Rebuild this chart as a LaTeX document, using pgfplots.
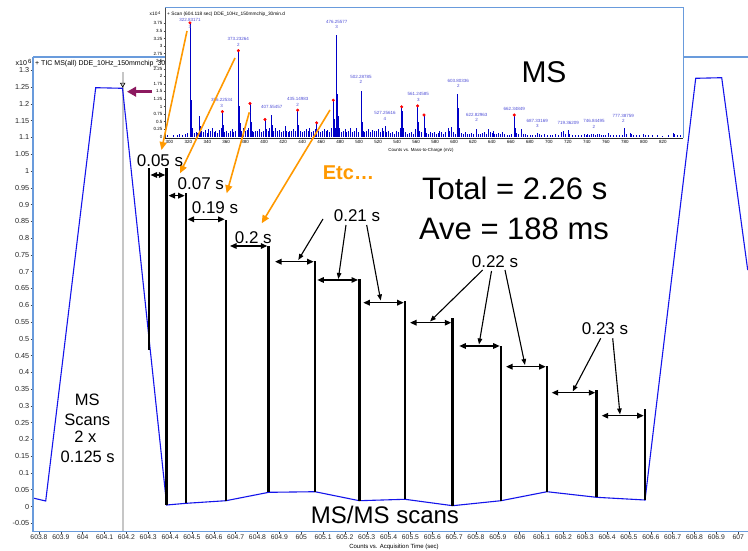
\documentclass[border=0pt]{standalone}
\usepackage{fontspec}
\setmainfont{Liberation Sans}
\usepackage{pgfplots}
\pgfplotsset{compat=1.18}
\usetikzlibrary{arrows.meta}

\definecolor{axisblue}{RGB}{105,155,220}
\definecolor{ticblue}{RGB}{20,20,235}
\definecolor{specblue}{RGB}{0,0,200}
\definecolor{peaklab}{RGB}{80,80,215}
\definecolor{orangec}{RGB}{255,153,0}
\definecolor{plum}{RGB}{140,25,95}

% pixel frame of the reference: origin top left, y down
\tikzset{px/.style={x=1bp,y=-1bp,shift={(0bp,551bp)}},
  dbl/.style={{Triangle[length=6.5bp,width=5.5bp]}-{Triangle[length=6.5bp,width=5.5bp]}, line width=1.4bp, black},
  call/.style={-{Triangle[length=6bp,width=4.5bp]}, line width=1.1bp, black},
  orng/.style={-{Triangle[length=8bp,width=7bp]}, line width=1.6bp, orangec},
  big/.style={anchor=base, font=\fontsize{17bp}{20bp}\selectfont},
  pk/.style={font=\fontsize{4.5bp}{5bp}\selectfont, text=peaklab, inner sep=0pt}}

\begin{document}
\begin{tikzpicture}
\path[use as bounding box, fill=white] (0,0) rectangle (748bp,551bp);

% ---------------- main TIC chromatogram ----------------
\begin{axis}[
  at={(33bp,20bp)}, anchor=south west, scale only axis,
  width=715bp, height=474bp,
  xmin=603.77254, xmax=607.04485, ymin=-0.0730, ymax=1.3398,
  axis line style={draw=none},
  clip=false,
  tick align=outside, xtick pos=left, ytick pos=left,
  major tick length=2.5bp,
  tick style={black!75, line width=0.5bp},
  scaled ticks=false,
  /pgf/number format/assume math mode=true,
  xtick={603.8,603.9,604,604.1,604.2,604.3,604.4,604.5,604.6,604.7,604.8,604.9,605,605.1,605.2,605.3,605.4,605.5,605.6,605.7,605.8,605.9,606,606.1,606.2,606.3,606.4,606.5,606.6,606.7,606.8,606.9,607},
  ytick={-0.05,0,0.05,0.1,0.15,0.2,0.25,0.3,0.35,0.4,0.45,0.5,0.55,0.6,0.65,0.7,0.75,0.8,0.85,0.9,0.95,1,1.05,1.1,1.15,1.2,1.25,1.3},
  xticklabel style={font=\fontsize{6.8bp}{7bp}\selectfont, text=black!85, inner sep=1bp,
    /pgf/number format/fixed, /pgf/number format/precision=1},
  yticklabel style={font=\fontsize{7.3bp}{8bp}\selectfont, text=black!85, inner sep=1bp,
    /pgf/number format/fixed, /pgf/number format/precision=2},
]
% marker line at the selected scan
\addplot[gray!45, line width=2bp] coordinates {(604.1831,-0.073) (604.1831,1.296)};

% TIC trace
\addplot[ticblue, line width=1.1bp] coordinates {
  (603.7725,0.0253) (603.8307,0.0164) (604.0595,1.2483) (604.1822,1.2465)
  (604.3844,0.0045) (604.4728,0.0095) (604.6558,0.0173) (604.8513,0.0423)
  (605.0632,0.0441) (605.2659,0.0173) (605.4751,0.0215) (605.6934,0.0024)
  (605.9144,0.0173) (606.1249,0.0441) (606.3524,0.0274) (606.5735,0.0194)
  (606.8055,1.2763) (606.9245,1.2781) (607.0435,0.7049)
};

\addplot[only marks, mark=triangle*, mark size=2.6bp,
  mark options={rotate=180, fill=gray!40, draw=black, line width=0.6bp}]
  coordinates {(604.1831,1.258)};

% MS/MS scan boundaries
\addplot[black, line width=2.6bp] coordinates {(604.3034,0.4665) (604.3034,1.0089)};
\addplot[black, line width=2.6bp] coordinates {(604.3844,0.0045) (604.3844,1.0089)};
\addplot[black, line width=2.6bp] coordinates {(604.4728,0.0095) (604.4728,0.9335)};
\addplot[black, line width=2.6bp] coordinates {(604.6558,0.0173) (604.6558,0.8539)};
\addplot[black, line width=2.6bp] coordinates {(604.8513,0.0423) (604.8513,0.7765)};
\addplot[black, line width=2.6bp] coordinates {(605.0632,0.0441) (605.0632,0.7317)};
\addplot[black, line width=2.6bp] coordinates {(605.2659,0.0173) (605.2659,0.6772)};
\addplot[black, line width=2.6bp] coordinates {(605.4751,0.0215) (605.4751,0.6125)};
\addplot[black, line width=2.6bp] coordinates {(605.6934,0.0024) (605.6934,0.5627)};
\addplot[black, line width=2.6bp] coordinates {(605.9144,0.0173) (605.9144,0.4784)};
\addplot[black, line width=2.6bp] coordinates {(606.1249,0.0441) (606.1249,0.4188)};
\addplot[black, line width=2.6bp] coordinates {(606.3524,0.0274) (606.3524,0.3472)};
\addplot[black, line width=2.6bp] coordinates {(606.5735,0.0194) (606.5735,0.2897)};
\end{axis}

\begin{scope}[px]
  \draw[axisblue, line width=1.8bp] (33,57) -- (33,531.5) -- (748,531.5);
  \draw[axisblue, line width=1.2bp] (33,57) -- (748,57);
  \node[anchor=base west, inner sep=0pt, font=\fontsize{7bp}{8bp}\selectfont] at (15.5,65.7)
    {x10\,\raisebox{2.5bp}{\fontsize{6bp}{6bp}\selectfont 6}};
  \node[anchor=base west, inner sep=0pt, font=\fontsize{7bp}{8bp}\selectfont] at (35,65.7)
    {+ TIC MS(all) DDE\_10Hz\_150mmchip\_30min.d};
  \node[anchor=base, inner sep=0pt, font=\fontsize{6bp}{7bp}\selectfont] at (394,549)
    {Counts vs. Acquisition Time (sec)};
\end{scope}

% ---------------- inset: MS spectrum ----------------
\begin{axis}[
  at={(165bp,413bp)}, anchor=south west, scale only axis,
  width=518bp, height=130bp,
  xmin=295.47, xmax=841.31, ymin=-0.043, ymax=4.2616,
  axis line style={draw=none},
  axis background/.style={fill=white},
  clip=false,
  tick align=outside, xtick pos=left, ytick pos=left,
  major tick length=1.5bp,
  tick style={black!75, line width=0.4bp},
  scaled ticks=false,
  /pgf/number format/assume math mode=true,
  xtick={300,320,...,820},
  ytick={0,0.25,...,3.75},
  xticklabel style={font=\fontsize{4.5bp}{5bp}\selectfont, inner sep=0.8bp,
    /pgf/number format/fixed, /pgf/number format/precision=0},
  yticklabel style={font=\fontsize{4.5bp}{5bp}\selectfont, inner sep=0.8bp,
    /pgf/number format/fixed, /pgf/number format/precision=2},
]
\addplot[ycomb, specblue, line width=0.7bp] table {
x y
296 0.03
298 0.04
304 0.05
308 0.04
311 0.08
314 0.05
317 0.10
319 0.12
321.8 3.77
322.4 1.93
323.0 1.20
323.6 0.55
324.3 0.30
326 0.12
328 0.15
330 0.12
331.6 0.68
332.5 0.35
334 0.20
336 0.15
338 0.22
340 0.12
341.5 0.25
343 0.18
345 0.30
347 0.15
349 0.20
351 0.12
353 0.22
354.5 0.30
355.9 0.83
356.8 0.40
358 0.15
360 0.20
362 0.12
364 0.18
366 0.25
368 0.15
370 0.20
372.8 2.85
373.6 1.00
374.4 0.45
376 0.20
378 0.28
380 0.18
382 0.22
383.5 0.30
385.0 1.10
386.0 0.50
387.5 0.20
389 0.15
391 0.20
393 0.18
395 0.25
397 0.15
399 0.20
400.8 0.57
402 0.25
404 0.18
405.5 0.30
407.1 0.72
408.5 0.40
410 0.20
412 0.30
414 0.18
416 0.22
418 0.15
420 0.20
421.9 0.35
423.5 0.20
425 0.15
427 0.20
429 0.18
431 0.25
433 0.20
435.3 0.88
436.3 0.40
438 0.20
440 0.15
442 0.20
444 0.25
446 0.18
448 0.30
450 0.15
452 0.20
453.5 0.25
455.3 0.46
457 0.20
459 0.15
461 0.20
463 0.25
465 0.18
467 0.22
469 0.15
471 0.30
472.8 1.21
473.9 0.60
475.2 0.30
476.3 3.37
477.3 1.40
478.3 0.70
479.5 0.30
481 0.15
483 0.20
485 0.25
487 0.15
489 0.20
491 0.30
493 0.15
495 0.20
497 0.28
499 0.15
502.0 1.52
503.1 0.50
504.5 0.20
506 0.15
508 0.20
510 0.25
512 0.15
514 0.22
516 0.18
518 0.20
520 0.25
522 0.15
524 0.30
526 0.20
527.3 0.35
529 0.15
531 0.20
533 0.12
535 0.15
537 0.10
539 0.20
541 0.15
543 0.30
544.9 0.99
545.6 0.85
547 0.30
549 0.15
551 0.10
553 0.12
555 0.15
557 0.10
559 0.25
561.7 1.02
562.7 0.50
564 0.20
566 0.15
568.4 0.72
569.5 0.30
571 0.12
573 0.10
575 0.15
577 0.12
579 0.15
581 0.10
583 0.12
585 0.20
587 0.15
589 0.10
591 0.15
594 0.30
595.5 0.20
597.6 0.33
599 0.15
601 0.10
603.9 1.40
605.0 0.95
606 0.30
608 0.12
610 0.10
612 0.15
614 0.08
616 0.10
618 0.12
620 0.08
623.9 0.24
626 0.10
628 0.08
630 0.12
632 0.15
634 0.10
636.2 0.25
638 0.15
640 0.12
641.4 0.20
643 0.10
645 0.08
647 0.12
649 0.10
651 0.15
653 0.08
656 0.05
658 0.06
660 0.08
663.5 0.72
664.5 0.30
666 0.12
668 0.08
671.3 0.25
673 0.10
675 0.08
677 0.05
680 0.06
683 0.05
686 0.06
687.8 0.12
690 0.08
692 0.06
695 0.08
698 0.05
701 0.06
704 0.05
707 0.08
710 0.06
713 0.15
715.2 0.20
717 0.10
720.4 0.22
722 0.08
725 0.05
728 0.06
731 0.05
734 0.06
737 0.08
739 0.06
741 0.10
743 0.06
745 0.10
747 0.08
749 0.06
751 0.10
753 0.08
755 0.05
757 0.06
760 0.05
762.6 0.12
765 0.05
768 0.06
771 0.05
774 0.06
777 0.05
779.1 0.28
780 0.15
782 0.08
785.4 0.12
787 0.08
789 0.06
792 0.05
795 0.06
799.5 0.10
802 0.05
805 0.06
809 0.05
814 0.04
820 0.03
826 0.04
831 0.12
832.5 0.08
835 0.05
838 0.04
};
% precursor picks
\addplot[only marks, mark=*, mark size=1.3bp, red] coordinates {
  (321.8,3.77) (372.8,2.85) (355.9,0.83) (385.0,1.10) (400.8,0.57)
  (435.3,0.88) (455.3,0.46) (472.8,1.21) (544.9,0.99) (561.7,1.02)
  (568.4,0.72) (663.5,0.72)
};
\end{axis}

% ---------------- annotations ----------------
\begin{scope}[px]
  % inset frame and labels
  \draw[axisblue, line width=1bp] (165,8) -- (683,8) -- (683,138);
  \draw[black!70, line width=0.5bp] (165,8) -- (165,138);
  \draw[black!85, line width=0.8bp] (165,138) -- (683,138);
  \node[anchor=base west, inner sep=0pt, font=\fontsize{4.8bp}{5bp}\selectfont] at (149.5,16)
    {x10\,\raisebox{1.8bp}{\fontsize{4bp}{4bp}\selectfont 4}};
  \node[anchor=base west, inner sep=0pt, font=\fontsize{4.8bp}{5bp}\selectfont] at (167,16)
    {+ Scan (604.118 sec) DDE\_10Hz\_150mmchip\_30min.d};
  \node[anchor=base, inner sep=0pt, font=\fontsize{4.4bp}{5bp}\selectfont] at (421,151.5)
    {Counts vs. Mass-to-Charge (m/z)};

  \node[pk] at (190,20) {322.83171};   \node[pk] at (190,26.7) {3};
  \node[pk] at (238.3,39.3) {373.23264}; \node[pk] at (238.3,45) {2};
  \node[pk] at (221.7,100) {356.22534}; \node[pk] at (221.7,106) {3};
  \node[pk] at (271.7,107.3) {407.55457};
  \node[pk] at (297.7,99) {435.14983};  \node[pk] at (297.7,104.5) {2};
  \node[pk] at (336.7,21.7) {476.25577}; \node[pk] at (336.7,27.3) {3};
  \node[pk] at (361,76.7) {502.28785};  \node[pk] at (361,82.2) {2};
  \node[pk] at (385,113.3) {527.25616}; \node[pk] at (385,118.8) {4};
  \node[pk] at (418.3,94.3) {561.24585}; \node[pk] at (418.3,99.6) {3};
  \node[pk] at (458.3,80.7) {603.80336}; \node[pk] at (458.3,86) {2};
  \node[pk] at (476.7,115) {622.82963}; \node[pk] at (476.7,120.3) {2};
  \node[pk] at (514.3,109) {662.34849};
  \node[pk] at (537.3,120.7) {687.33169}; \node[pk] at (537.3,126) {3};
  \node[pk] at (568.3,122.7) {719.36209};
  \node[pk] at (594,120.7) {746.84495}; \node[pk] at (594,126.5) {2};
  \node[pk] at (623.3,115.7) {777.38759}; \node[pk] at (623.3,121) {2};

  \node[anchor=base, inner sep=0pt, font=\fontsize{30bp}{34bp}\selectfont] at (544,82.7) {MS};

  % selected scan pointer
  \draw[-{Triangle[length=9bp,width=9.5bp]}, plum, line width=3.6bp] (152,91.7) -- (127,91.7);

  % orange links from precursor peaks
  \draw[orng] (187,31) -- (161.5,150);
  \draw[orng] (235,58) -- (180,173.3);
  \draw[orng] (249.3,112.3) -- (226.7,193.3);
  \draw[orng] (330,110) -- (261.7,223.3);
  \node[anchor=base west, inner sep=0pt, text=orangec, font=\bfseries\fontsize{20bp}{22bp}\selectfont] at (322.7,180) {Etc…};

  % scan intervals
  \draw[dbl] (150.5,175) -- (165.3,175);
  \draw[dbl] (168.5,195.7) -- (184.7,195.7);
  \draw[dbl] (187.5,219.3) -- (224.7,219.3);
  \draw[dbl] (230,246) -- (267.3,246);
  \draw[dbl] (275,261.7) -- (313.7,261.7);
  \draw[dbl] (317.3,280) -- (358,280);
  \draw[dbl] (363.3,302.7) -- (403.7,302.7);
  \draw[dbl] (410,322.7) -- (451.3,322.7);
  \draw[dbl] (459.3,346) -- (499.7,346);
  \draw[dbl] (506,366.7) -- (545.7,366.7);
  \draw[dbl] (551.7,392.7) -- (595.3,392.7);
  \draw[dbl] (601.7,415.7) -- (643.7,415.7);

  \node[big] at (160,166.7) {0.05 s};
  \node[big] at (200.8,189.3) {0.07 s};
  \node[big] at (215,214) {0.19 s};
  \node[big] at (253.3,243.3) {0.2 s};
  \node[big] at (357,221.7) {0.21 s};
  \node[big] at (495,267.3) {0.22 s};
  \node[big] at (605,334.3) {0.23 s};

  \draw[call] (323,219) -- (298.3,260);
  \draw[call] (346,225) -- (338.3,279);
  \draw[call] (366.7,225) -- (380.7,300.5);
  \draw[call] (482.7,270) -- (430,321.5);
  \draw[call] (491.5,271) -- (479,344.5);
  \draw[call] (505,270) -- (525,365);
  \draw[call] (600.7,338.3) -- (572.7,391.5);
  \draw[call] (612.7,338.3) -- (620,414.5);

  \node[anchor=base, inner sep=0pt, font=\fontsize{31bp}{35bp}\selectfont] at (514.7,200) {Total = 2.26 s};
  \node[anchor=base, inner sep=0pt, font=\fontsize{31bp}{35bp}\selectfont] at (514,239.3) {Ave = 188 ms};

  \node[anchor=base, inner sep=0pt, font=\fontsize{24bp}{28bp}\selectfont] at (385,523.3) {MS/MS scans};

  \node[anchor=base, inner sep=0pt, font=\fontsize{16.5bp}{19bp}\selectfont] at (87.3,406) {MS};
  \node[anchor=base, inner sep=0pt, font=\fontsize{16.5bp}{19bp}\selectfont] at (87.3,425.7) {Scans};
  \node[anchor=base, inner sep=0pt, font=\fontsize{16.5bp}{19bp}\selectfont] at (85.5,442.7) {2 x};
  \node[anchor=base, inner sep=0pt, font=\fontsize{16.5bp}{19bp}\selectfont] at (87.7,462.3) {0.125 s};
\end{scope}
\end{tikzpicture}
\end{document}
